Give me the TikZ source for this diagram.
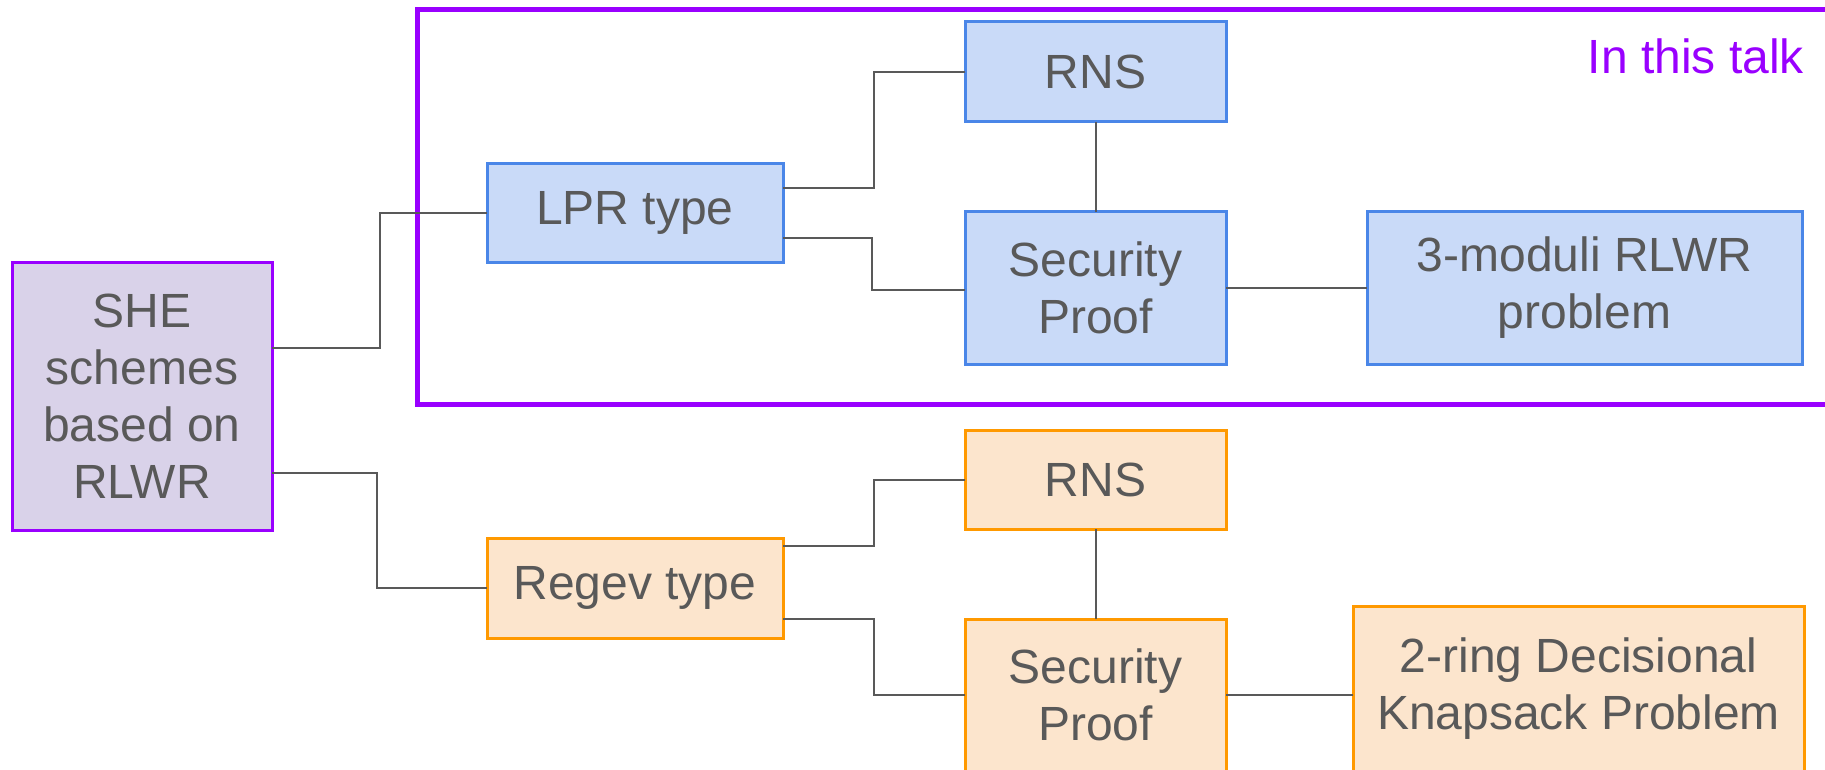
\documentclass[tikz,border=0pt]{standalone}
\usepackage{fontspec}
\setmainfont{Liberation Sans}
\usetikzlibrary{calc}
\definecolor{txtgray}{HTML}{595959}
\definecolor{purp}{HTML}{9900FF}
\definecolor{purpfill}{HTML}{D9D2E9}
\definecolor{blueline}{HTML}{4A86E8}
\definecolor{bluefill}{HTML}{C9DAF8}
\definecolor{orangeline}{HTML}{FF9900}
\definecolor{orangefill}{HTML}{FCE5CD}
\tikzset{
  box/.style={draw, line width=3pt, inner sep=0pt, outer sep=0pt, align=center,
    text=txtgray, font=\fontsize{48}{57}\selectfont},
  rootbox/.style={box, draw=purp, fill=purpfill},
  bluebox/.style={box, draw=blueline, fill=bluefill},
  orangebox/.style={box, draw=orangeline, fill=orangefill},
  conn/.style={draw=txtgray, line width=2pt},
  frame/.style={draw=purp, line width=5pt},
}
\begin{document}
\begin{tikzpicture}[x=1pt,y=-1pt]
\useasboundingbox (0,0) rectangle (1825,770);
% "In this talk" frame
\draw[frame] (417,9.5) rectangle (1860,404);
\node[anchor=base east, text=purp, font=\fontsize{48}{57}\selectfont, inner sep=0pt] (talk) at (1804,74) {In this talk};

% nodes
\node[rootbox, minimum width=260pt, minimum height=268pt] (she) at (142,396) {SHE\\schemes\\based on\\RLWR};
\node[bluebox, minimum width=296pt, minimum height=98pt] (lpr) at (635,213) {LPR type};
\node[bluebox, minimum width=261pt, minimum height=100pt] (rns1) at (1095.5,72) {RNS};
\node[bluebox, minimum width=261pt, minimum height=152pt] (sec1) at (1095.5,288) {Security\\Proof};
\node[bluebox, minimum width=435pt, minimum height=152pt] (mod3) at (1584.5,288) {3-moduli RLWR\\problem};

\node[orangebox, minimum width=296pt, minimum height=100pt] (regev) at (635,588) {Regev type};
\node[orangebox, minimum width=261pt, minimum height=99pt] (rns2) at (1095.5,479.5) {RNS};
\node[orangebox, minimum width=261pt, minimum height=152pt] (sec2) at (1095.5,695) {Security\\Proof};
\node[orangebox, minimum width=451pt, minimum height=166pt] (ring2) at (1578.5,689) {2-ring Decisional\\Knapsack Problem};

% connectors
\draw[conn] ([yshift=48pt]she.east) -- ++(108,0) |- (lpr.west);
\draw[conn] ([yshift=-77pt]she.east) -- ++(105,0) |- (regev.west);
\draw[conn] ([yshift=25pt]lpr.east) -- ++(91,0) |- (rns1.west);
\draw[conn] ([yshift=-25pt]lpr.east) -- ++(89,0) |- ([yshift=-2pt]sec1.west);
\draw[conn] (rns1.south) -- (sec1.north);
\draw[conn] (sec1.east) -- (mod3.west);
\draw[conn] ([yshift=42pt]regev.east) -- ++(91,0) |- (rns2.west);
\draw[conn] ([yshift=-31pt]regev.east) -- ++(91,0) |- (sec2.west);
\draw[conn] (rns2.south) -- (sec2.north);
\draw[conn] (sec2.east) -- (sec2.east -| ring2.west);
\end{tikzpicture}
\end{document}
